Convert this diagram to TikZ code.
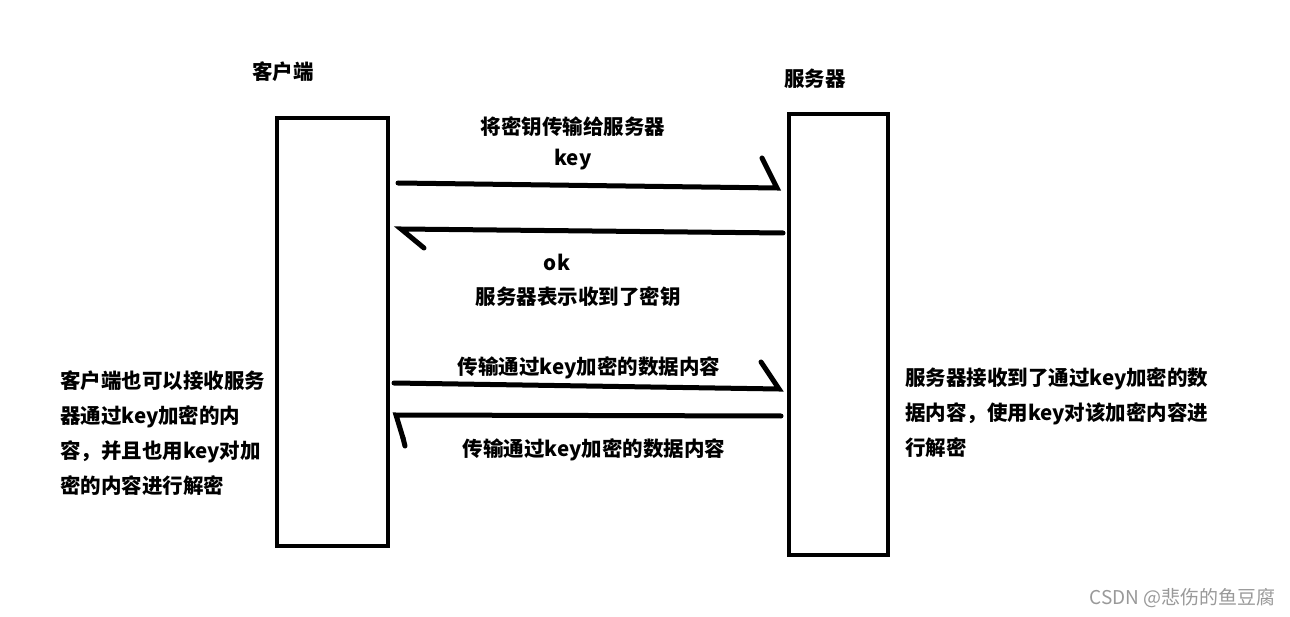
\documentclass[tikz,border=0pt]{standalone}
\usepackage{fontspec}
\setmainfont{Noto Sans CJK SC}
\newfontfamily\wmfont{Noto Sans CJK SC}
\begin{document}
\begin{tikzpicture}[x=1pt,y=-1pt,
  lbl/.style={font=\fontsize{20.5}{24}\selectfont\bfseries, inner sep=0pt},
  para/.style={font=\fontsize{20.5}{35}\selectfont\bfseries, inner sep=0pt, align=left, anchor=north west},
  lane/.style={draw=black, line width=4pt},
  msg/.style={draw=black, line width=5pt, line cap=round},
]
\useasboundingbox[fill=white] (0,0) rectangle (1290,617);
% lifelines
\node[lane, minimum width=111pt, minimum height=428pt, inner sep=0pt] (client) at (332.5,332) {};
\node[lane, minimum width=99pt, minimum height=441pt, inner sep=0pt] (server) at (838.5,334.5) {};
\node[lbl] (clientlbl) at (283,72) {客户端};
\node[lbl] (serverlbl) at (815,79) {服务器};
% message 1
\coordinate (m1s) at (398,183);
\coordinate (m1e) at (777,188);
\coordinate (m1h) at (762,158);
\draw[msg] (m1s) -- (m1e) -- (m1h);
\node[lbl] (m1a) at (573,127) {将密钥传输给服务器};
\node[lbl] (m1b) at (573,160) {key};
% message 2
\coordinate (m2s) at (783,233);
\coordinate (m2e) at (401,229);
\coordinate (m2h) at (424,248);
\draw[msg] (m2s) -- (m2e) -- (m2h);
\node[lbl] (m2a) at (557,262) {ok};
\node[lbl] (m2b) at (578,297) {服务器表示收到了密钥};
% message 3
\coordinate (m3s) at (394,383);
\coordinate (m3e) at (779,389);
\coordinate (m3h) at (761,362);
\draw[msg] (m3s) -- (m3e) -- (m3h);
\node[lbl] (m3a) at (589,368) {传输通过key加密的数据内容};
% message 4
\coordinate (m4s) at (781,416);
\coordinate (m4e) at (396,415);
\coordinate (m4h) at (403,438);
\coordinate (m4d) at (405,446);
\draw[msg] (m4s) -- (m4e) -- (m4h);
\draw[msg] (m4h) -- (m4d);
\node[lbl] (m4a) at (594,450) {传输通过key加密的数据内容};
% side notes
\node[para] (leftnote) at (60,370) {客户端也可以接收服务\\器通过key加密的内\\容，并且也用key对加\\密的内容进行解密};
\node[para] (rightnote) at (905,367) {服务器接收到了通过key加密的数\\据内容，使用key对该加密内容进\\行解密};
% watermark
\node[font=\wmfont\fontsize{19}{22}\selectfont, text=black!40, anchor=east, inner sep=0pt] (wm) at (1276,598) {CSDN @悲伤的鱼豆腐};
\end{tikzpicture}
\end{document}
